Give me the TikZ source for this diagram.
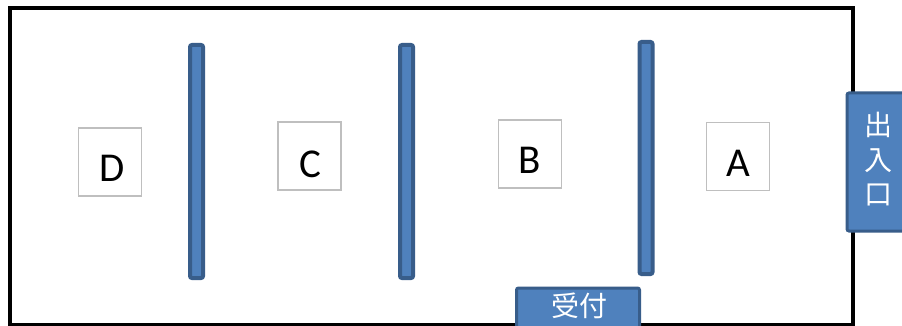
\documentclass[tikz,border=0pt]{standalone}
\usepackage{fontspec}
\setmainfont{Carlito}
\newfontfamily\jpfont{Noto Sans CJK JP}
\definecolor{accfill}{HTML}{4F81BD}
\definecolor{accline}{HTML}{385D8A}
\definecolor{boxgray}{HTML}{BFBFBF}
\begin{document}
\begin{tikzpicture}[x=1pt,y=-1pt,
  wall/.style={draw=accline,fill=accfill,line width=4pt,rounded corners=2pt,inner sep=0pt,minimum width=13pt},
  seat/.style={draw=boxgray,line width=1.2pt,fill=white,inner sep=0pt,minimum width=63pt,minimum height=68pt},
  letter/.style={font=\fontsize{41}{41}\selectfont,inner sep=0pt},
  jp/.style={font=\jpfont\fontsize{28}{28}\selectfont,text=white,inner sep=0pt},
  tag/.style={draw=accline,fill=accfill,line width=3pt,rounded corners=2pt,inner sep=0pt}]
\useasboundingbox (0,0) rectangle (902,326);
\fill[white] (0,0) rectangle (902,326);
% room
\node[draw=black,line width=4.5pt,inner sep=0pt,minimum width=843pt,minimum height=317pt] (room) at (431.5,166.5) {};
% walls
\node[wall,minimum height=233pt] (w1) at (196.5,161.5) {};
\node[wall,minimum height=233pt] (w2) at (406.5,161.5) {};
\node[wall,minimum height=232pt] (w3) at (646,158) {};
% seats
\node[seat] (sD) at (110,162) {};
\node[seat] (sC) at (309.5,156) {};
\node[seat] (sB) at (530,154) {};
\node[seat] (sA) at (738,156.5) {};
\node[letter] (lD) at (112,168) {D};
\node[letter] (lC) at (310,164) {C};
\node[letter] (lB) at (530,160) {B};
\node[letter] (lA) at (738,163) {A};
% exit
\node[tag,minimum width=70pt,minimum height=138pt] (exit) at (882,162) {};
\node[jp] (e1) at (878,125) {出};
\node[jp] (e2) at (878,161) {入};
\node[jp] (e3) at (878,195) {口};
% reception
\node[tag,minimum width=123pt,minimum height=46pt] (rec) at (578,311) {};
\node[jp] (rt) at (579,306) {受付};
\end{tikzpicture}
\end{document}
